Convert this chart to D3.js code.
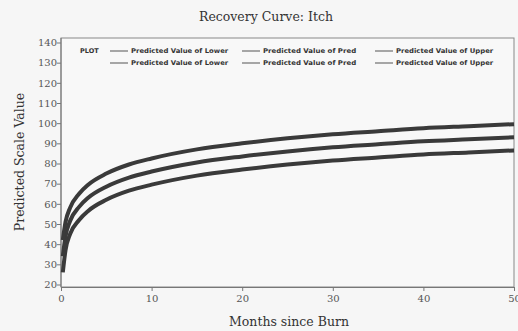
<!DOCTYPE html>
<html>
<head>
<meta charset="utf-8">
<script src="https://d3js.org/d3.v7.min.js"></script>
<style>
  body { margin: 0; background: #f6f6f6; }
  svg { display: block; }
</style>
</head>
<body>
<svg id="chart" width="518" height="331"></svg>
<script>
// values
var months = [0.2, 0.5, 1, 2, 3, 5, 7.5, 10, 15, 20, 25, 30, 35, 40, 45, 50];
var upper  = [42, 51, 58, 65, 69.5, 75, 79.5, 82.5, 87, 90, 92.5, 94.5, 96, 97.5, 98.5, 99.5];
var pred   = [34, 44, 51.5, 58.5, 63, 68.5, 73, 76, 80.5, 83.5, 86, 88, 89.5, 91, 92, 93];
var lower  = [26, 37, 45, 52, 56.5, 62, 66.5, 69.5, 74, 77, 79.5, 81.5, 83, 84.5, 85.5, 86.5];
var xTicks = [0, 10, 20, 30, 40, 50];
var yTicks = [20, 30, 40, 50, 60, 70, 80, 90, 100, 110, 120, 130, 140];
var legendRows = [
  ['Predicted Value of Lower', 'Predicted Value of Pred', 'Predicted Value of Upper'],
  ['Predicted Value of Lower', 'Predicted Value of Pred', 'Predicted Value of Upper']
];

var svg = d3.select('#chart');
var serif = '"DejaVu Serif", "Liberation Serif", serif';

var x = d3.scaleLinear().domain([0, 50]).range([61, 514]);
var y = d3.scaleLinear().domain([20, 140]).range([284.5, 42.5]);
var frameTop = 38, frameBottom = 287;

// frame
svg.append('rect')
  .attr('x', x(0)).attr('y', frameTop)
  .attr('width', x(50) - x(0)).attr('height', frameBottom - frameTop)
  .attr('fill', '#f8f8f8').attr('stroke', '#888').attr('stroke-width', 1);

// y axis
var yAxis = svg.append('g').attr('transform', 'translate(' + x(0) + ',0)');
yAxis.call(d3.axisLeft(y).tickValues(d3.range(20, 141, 1)).tickSize(2).tickFormat(''));
yAxis.call(d3.axisLeft(y).tickValues(yTicks).tickSize(4).tickFormat(d3.format('d')));
yAxis.selectAll('.domain').attr('stroke', '#777').attr('d', 'M0,' + frameTop + 'V' + frameBottom);
yAxis.selectAll('.tick line').attr('stroke', '#777');
yAxis.selectAll('text')
  .attr('font-family', serif).attr('font-size', 10).attr('fill', '#555').attr('x', -4);

// x axis
var xAxis = svg.append('g').attr('transform', 'translate(0,' + frameBottom + ')');
xAxis.call(d3.axisBottom(x).tickValues(d3.range(0, 51, 1)).tickSize(2).tickFormat(''));
xAxis.call(d3.axisBottom(x).tickValues(xTicks).tickSize(4).tickFormat(d3.format('d')));
xAxis.selectAll('.domain').attr('stroke', '#777');
xAxis.selectAll('.tick line').attr('stroke', '#777');
xAxis.selectAll('text')
  .attr('font-family', serif).attr('font-size', 10).attr('fill', '#555').attr('y', 8);

// curves
var line = d3.line()
  .x(function (d) { return x(d[0]); })
  .y(function (d) { return y(d[1]); })
  .curve(d3.curveMonotoneX);

[lower, pred, upper].forEach(function (vals) {
  svg.append('path')
    .datum(months.map(function (m, i) { return [m, vals[i]]; }))
    .attr('d', line)
    .attr('fill', 'none')
    .attr('stroke', '#3a3a3a')
    .attr('stroke-width', 4)
    .attr('stroke-linecap', 'butt');
});

// legend
var legend = svg.append('g')
  .attr('font-family', '"DejaVu Sans", sans-serif')
  .attr('font-size', 6.5)
  .attr('font-weight', 'bold')
  .attr('fill', '#333');
legend.append('text').attr('x', 80).attr('y', 53).text('PLOT');
var colX = [110, 242, 375];
legendRows.forEach(function (row, r) {
  row.forEach(function (label, c) {
    var ly = 51 + r * 12;
    legend.append('line')
      .attr('x1', colX[c]).attr('x2', colX[c] + 18)
      .attr('y1', ly).attr('y2', ly)
      .attr('stroke', '#555').attr('stroke-width', 1);
    legend.append('text')
      .attr('x', colX[c] + 21).attr('y', ly + 2)
      .attr('textLength', label.length * 4.05)
      .attr('lengthAdjust', 'spacingAndGlyphs')
      .text(label);
  });
});

// titles
svg.append('text')
  .attr('x', 266).attr('y', 21)
  .attr('text-anchor', 'middle')
  .attr('font-family', serif).attr('font-size', 12.5).attr('fill', '#333')
  .text('Recovery Curve: Itch');

svg.append('text')
  .attr('x', 289).attr('y', 326)
  .attr('text-anchor', 'middle')
  .attr('font-family', serif).attr('font-size', 12.5).attr('fill', '#333')
  .text('Months since Burn');

svg.append('text')
  .attr('transform', 'translate(24,162) rotate(-90)')
  .attr('text-anchor', 'middle')
  .attr('font-family', serif).attr('font-size', 12.5).attr('fill', '#333')
  .text('Predicted Scale Value');
</script>
</body>
</html>
